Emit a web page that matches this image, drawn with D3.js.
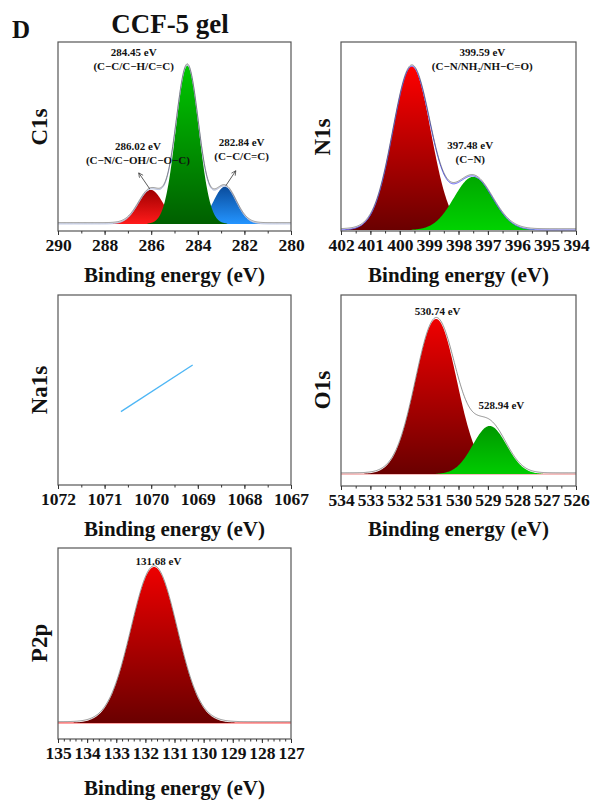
<!DOCTYPE html>
<html><head><meta charset="utf-8">
<script src="https://cdn.jsdelivr.net/npm/d3@7/dist/d3.min.js"></script>
<style>body{margin:0;background:#fff;} text{font-family:"Liberation Serif","Times New Roman",serif !important;font-weight:bold !important;fill:#111;}</style>
</head><body>
<svg id="chart" width="592" height="802"></svg>
<script>
// ---------------- data ----------------
const c1sCenters = [286.02, 284.45, 282.84];
const c1sHeights = [0.215, 1.0, 0.235];
const c1sFwhm = [1.25, 1.15, 1.15];
const c1sLabels = [["286.02 eV", "(C\u2212N/C\u2212OH/C\u2212O\u2212C)"], ["284.45 eV", "(C\u2212C/C\u2212H/C=C)"], ["282.84 eV", "(C\u2212C/C=C)"]];
const c1sTicks = [290, 288, 286, 284, 282, 280];

const n1sCenters = [399.59, 397.50];
const n1sHeights = [1.0, 0.325];
const n1sFwhm = [1.52, 1.55];
const n1sLabels = [["399.59 eV", "(C\u2212N/NH\u2082/NH\u2212C=O)"], ["397.48 eV", "(C\u2212N)"]];
const n1sTicks = [402, 401, 400, 399, 398, 397, 396, 395, 394];

const na1sEnergy = [1070.65, 1069.11];
const na1sValues = [0.386, 0.632];
const na1sTicks = [1072, 1071, 1070, 1069, 1068, 1067];

const o1sCenters = [530.76, 528.94];
const o1sHeights = [1.0, 0.31];
const o1sFwhm = [1.65, 1.35];
const o1sLabels = ["530.74 eV", "528.94 eV"];
const o1sTicks = [534, 533, 532, 531, 530, 529, 528, 527, 526];

const p2pCenters = [131.70];
const p2pHeights = [1.0];
const p2pFwhm = [1.85];
const p2pLabels = ["131.68 eV"];
const p2pTicks = [135, 134, 133, 132, 131, 130, 129, 128, 127];

// ---------------- drawing ----------------
const svg = d3.select("#chart");
const defs = svg.append("defs");
let gradId = 0;
function grad(top, bottom) {
  const id = "g" + (gradId++);
  const g = defs.append("linearGradient").attr("id", id).attr("x1", 0).attr("y1", 0).attr("x2", 0).attr("y2", 1);
  g.append("stop").attr("offset", "0%").attr("stop-color", top);
  g.append("stop").attr("offset", "100%").attr("stop-color", bottom);
  return "url(#" + id + ")";
}
defs.append("marker").attr("id", "arr").attr("viewBox", "0 0 10 10").attr("refX", 9).attr("refY", 5)
  .attr("markerWidth", 7).attr("markerHeight", 7).attr("orient", "auto")
  .append("path").attr("d", "M1,1 L9,5 L1,9").attr("fill", "none").attr("stroke", "#333").attr("stroke-width", 1.2);

function gauss(e, c, h, w) { return h * Math.exp(-4 * Math.LN2 * (e - c) * (e - c) / (w * w)); }
const SERIF = "'Liberation Serif', 'Times New Roman', serif";

function panel(o) {
  const x = d3.scaleLinear().domain(o.xDomain).range([o.left, o.right]);
  const y = d3.scaleLinear().domain(o.yDomain).range([o.bottom, o.top]);
  const g = svg.append("g");
  const clipId = "clip" + o.name;
  defs.append("clipPath").attr("id", clipId).append("rect")
    .attr("x", o.left).attr("y", o.top).attr("width", o.right - o.left).attr("height", o.bottom - o.top);
  const plot = g.append("g").attr("clip-path", "url(#" + clipId + ")");
  const lo = Math.min(...o.xDomain), hi = Math.max(...o.xDomain);
  const grid = d3.range(lo, hi + 0.001, 0.02);
  if (o.centers) {
    if (o.baseColor) {
      plot.append("line").attr("x1", o.left).attr("x2", o.right).attr("y1", y(0)).attr("y2", y(0))
        .attr("stroke", o.baseColor).attr("stroke-width", 1);
    }
    const order = o.order || o.centers.map((d, i) => i);
    order.forEach(i => {
      const pts = grid.map(e => [e, gauss(e, o.centers[i], o.heights[i], o.fwhm[i])]).filter(p => p[1] > 0.002);
      const area = d3.area().x(p => x(p[0])).y0(y(0)).y1(p => y(p[1]));
      plot.append("path").datum(pts).attr("d", area).attr("fill", grad(o.colors[i][0], o.colors[i][1]));
    });
    const env = grid.map(e => [e, o.centers.reduce((s, c, i) => s + gauss(e, c, o.heights[i], o.fwhm[i]), 0)]);
    const line = d3.line().x(p => x(p[0])).y(p => y(p[1]));
    if (o.envColor) plot.append("path").datum(env).attr("d", line).attr("fill", "none").attr("stroke", o.envColor).attr("stroke-width", 1);
    plot.append("path").datum(env.map(p => [p[0], p[1] + 0.008])).attr("d", line).attr("fill", "none").attr("stroke", "#555").attr("stroke-width", 0.8).attr("opacity", 0.8);
  }
  if (o.lineE) {
    plot.append("path").datum(o.lineE.map((e, i) => [e, o.lineV[i]]))
      .attr("d", d3.line().x(p => x(p[0])).y(p => y(p[1])))
      .attr("fill", "none").attr("stroke", "#4db6f5").attr("stroke-width", 1.3);
  }
  // frame
  g.append("rect").attr("x", o.left).attr("y", o.top).attr("width", o.right - o.left).attr("height", o.bottom - o.top)
    .attr("fill", "none").attr("stroke", "#555").attr("stroke-width", 1.2);
  // axes
  const ax = g.append("g").attr("transform", "translate(0," + o.bottom + ")")
    .call(d3.axisBottom(x).tickValues(o.ticks).tickFormat(d3.format("d")).tickSize(4).tickPadding(4));
  ax.attr("font-family", SERIF).attr("font-size", 17.5).attr("font-weight", "bold");
  ax.select(".domain").remove();
  ax.selectAll("line").attr("stroke", "#333");
  ax.selectAll("text").attr("font-family", SERIF).attr("font-weight", "bold").style("font-size", "17.5px").attr("fill", "#111");
  const mn = g.append("g").attr("transform", "translate(0," + o.bottom + ")")
    .call(d3.axisBottom(x).tickValues(d3.range(lo, hi + 0.0001, o.minor)).tickFormat("").tickSize(2.5));
  mn.select(".domain").remove();
  mn.selectAll("line").attr("stroke", "#333");
  // y label
  g.append("text").attr("transform", "translate(" + (o.left - 11) + "," + o.yLabelY + ") rotate(-90)")
    .attr("text-anchor", "middle").style("font-size", "23px").text(o.yLabel);
  // x title
  g.append("text").attr("x", (o.left + o.right) / 2).attr("y", o.titleY).attr("text-anchor", "middle")
    .style("font-size", "21px").text("Binding energy (eV)");
  return {x, y, g};
}

// C1s
const c1 = panel({name: "c1", left: 58, right: 291, top: 42, bottom: 231, xDomain: [290, 280], yDomain: [-0.045, 1.15],
  ticks: c1sTicks, minor: 1, yLabel: "C1s", yLabelY: 127, titleY: 282,
  centers: c1sCenters, heights: c1sHeights, fwhm: c1sFwhm, order: [0, 2, 1],
  colors: [["#a00000", "#ff1a1a"], ["#00c800", "#005f00"], ["#0a4c9c", "#2394ff"]], envColor: "#a8b4d8"});
// N1s
const n1 = panel({name: "n1", left: 341, right: 576, top: 42, bottom: 231, xDomain: [402, 394], yDomain: [-0.006, 1.15],
  ticks: n1sTicks, minor: 0.5, yLabel: "N1s", yLabelY: 137, titleY: 282,
  centers: n1sCenters, heights: n1sHeights, fwhm: n1sFwhm,
  colors: [["#ff0000", "#6a0000"], ["#00a800", "#00d200"]], envColor: "#5a5af5"});
// Na1s
const na = panel({name: "na", left: 58, right: 291, top: 295, bottom: 485, xDomain: [1072, 1067], yDomain: [0, 1],
  ticks: na1sTicks, minor: 0.5, yLabel: "Na1s", yLabelY: 390, titleY: 536,
  lineE: na1sEnergy, lineV: na1sValues});
// O1s
const o1 = panel({name: "o1", left: 341, right: 576, top: 295, bottom: 486, xDomain: [534, 526], yDomain: [-0.077, 1.155],
  ticks: o1sTicks, minor: 0.5, yLabel: "O1s", yLabelY: 390, titleY: 536,
  centers: o1sCenters, heights: o1sHeights, fwhm: o1sFwhm,
  colors: [["#f00000", "#6a0000"], ["#009800", "#00cc00"]], baseColor: "#e88"});
// P2p
const p2 = panel({name: "p2", left: 58, right: 291, top: 548, bottom: 739, xDomain: [135, 127], yDomain: [-0.103, 1.122],
  ticks: p2pTicks, minor: 0.2, yLabel: "P2p", yLabelY: 643, titleY: 795,
  centers: p2pCenters, heights: p2pHeights, fwhm: p2pFwhm,
  colors: [["#ee0000", "#6a0000"]], baseColor: "#f33"});

// peak labels
function lbl(p, e, v, dy, lines, size) {
  lines.forEach((t, k) => {
    p.g.append("text").attr("x", p.x(e)).attr("y", p.y(v) + dy + k * 14).attr("text-anchor", "middle")
      .style("font-size", (size || 11) + "px").text(t);
  });
}
// C1s
lbl(c1, c1sCenters[1] + 2.3, 1.0, -10, c1sLabels[1]);
lbl(c1, c1sCenters[0] + 0.55, c1sHeights[0], -40, c1sLabels[0]);
lbl(c1, c1sCenters[2] - 0.72, c1sHeights[2], -41, c1sLabels[2]);
c1.g.append("line").attr("x1", c1.x(c1sCenters[0]) - 1).attr("y1", c1.y(c1sHeights[0]) - 1)
  .attr("x2", c1.x(c1sCenters[0]) - 12).attr("y2", c1.y(c1sHeights[0]) - 17)
  .attr("stroke", "#333").attr("stroke-width", 0.8).attr("marker-end", "url(#arr)");
c1.g.append("line").attr("x1", c1.x(c1sCenters[2]) + 1).attr("y1", c1.y(c1sHeights[2]) - 1)
  .attr("x2", c1.x(c1sCenters[2]) + 11).attr("y2", c1.y(c1sHeights[2]) - 16)
  .attr("stroke", "#333").attr("stroke-width", 0.8).attr("marker-end", "url(#arr)");
// N1s
lbl(n1, n1sCenters[0] - 2.4, 1.0, -11, n1sLabels[0]);
lbl(n1, n1sCenters[1] + 0.1, n1sHeights[1], -28, n1sLabels[1]);
// O1s
lbl(o1, o1sCenters[0] - 0.05, 1.0, -4, [o1sLabels[0]]);
lbl(o1, o1sCenters[1] - 0.4, o1sHeights[1], -17, [o1sLabels[1]]);
// P2p
lbl(p2, p2pCenters[0] - 0.15, 1.0, -2, [p2pLabels[0]]);

// header
svg.append("text").attr("x", 12).attr("y", 38).style("font-size", "25px").text("D");
svg.append("text").attr("x", 170).attr("y", 33).attr("text-anchor", "middle").style("font-size", "27px").text("CCF-5 gel");
</script>
</body></html>
